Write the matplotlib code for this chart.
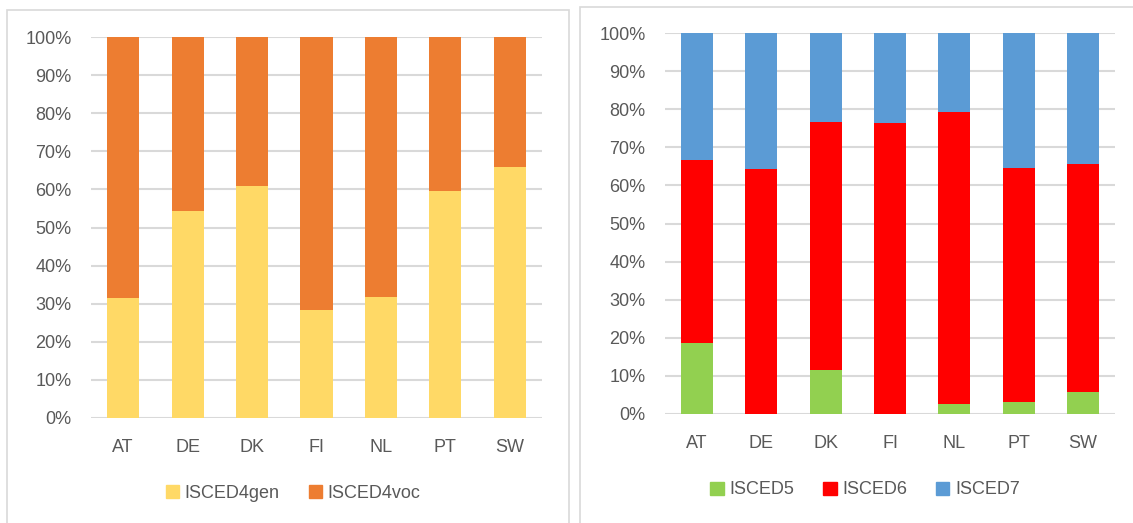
import numpy as np
import matplotlib
matplotlib.use("Agg")
import matplotlib.pyplot as plt
from matplotlib.patches import Rectangle, Patch
from matplotlib.ticker import PercentFormatter

plt.rcParams['font.family'] = ['Liberation Sans', 'DejaVu Sans']

countries = ["AT", "DE", "DK", "FI", "NL", "PT", "SW"]

# left chart: share of ISCED 4 general / vocational (%)
isced4gen = [31.5, 54.3, 61.0, 28.3, 31.8, 59.6, 65.9]
isced4voc = [68.5, 45.7, 39.0, 71.7, 68.2, 40.4, 34.1]

# right chart: share of ISCED 5 / 6 / 7 (%)
isced5 = [18.6, 0.0, 11.5, 0.0, 2.6, 3.1, 5.8]
isced6 = [48.1, 64.2, 65.1, 76.4, 76.7, 61.5, 59.8]
isced7 = [33.3, 35.8, 23.4, 23.6, 20.7, 35.4, 34.4]

W, H = 1133, 523
txt = "#595959"
grid = "#D9D9D9"

fig = plt.figure(figsize=(W / 100, H / 100), dpi=100)

# panel frames
fig.patches.append(Rectangle((6.5 / W, -0.05), (569 - 6.5) / W, 1.05 - 10 / H,
                             transform=fig.transFigure, fill=False,
                             edgecolor=grid, lw=1.2))
fig.patches.append(Rectangle((580 / W, -0.05), 0.5, 1.05 - 7 / H,
                             transform=fig.transFigure, fill=False,
                             edgecolor=grid, lw=1.2))

ax1 = fig.add_axes([91 / W, (H - 418) / H, 451 / W, 381 / H])
ax2 = fig.add_axes([665 / W, (H - 414) / H, 450 / W, 381 / H])

x = np.arange(len(countries))
bw = 0.5

ax1.bar(x, isced4gen, bw, color="#FFD966", zorder=3)
ax1.bar(x, isced4voc, bw, bottom=isced4gen, color="#ED7D31", zorder=3)

b6 = np.array(isced5)
b7 = b6 + np.array(isced6)
ax2.bar(x, isced5, bw, color="#92D050", zorder=3)
ax2.bar(x, isced6, bw, bottom=b6, color="#FF0000", zorder=3)
ax2.bar(x, isced7, bw, bottom=b7, color="#5B9BD5", zorder=3)

for ax in (ax1, ax2):
    ax.set_xlim(-0.5, len(countries) - 0.5)
    ax.set_ylim(0, 100)
    ax.set_yticks(np.arange(0, 101, 10))
    ax.yaxis.set_major_formatter(PercentFormatter(decimals=0))
    ax.set_xticks(x)
    ax.set_xticklabels(countries)
    ax.grid(axis="y", color=grid, lw=1.5, zorder=0)
    ax.set_axisbelow(True)
    for s in ax.spines.values():
        s.set_visible(False)
    ax.tick_params(axis="y", length=0, pad=14, labelsize=13, labelcolor=txt)
    ax.tick_params(axis="x", length=0, pad=15, labelsize=13, labelcolor=txt)

leg_kw = dict(frameon=False, fontsize=13, handlelength=0.75, handleheight=0.75,
              handletextpad=0.3, columnspacing=1.6, loc="center", labelcolor=txt)

fig.legend(handles=[Patch(color="#FFD966", label="ISCED4gen"),
                    Patch(color="#ED7D31", label="ISCED4voc")],
           ncol=2, bbox_to_anchor=(293 / W, (H - 493) / H), **leg_kw)
fig.legend(handles=[Patch(color="#92D050", label="ISCED5"),
                    Patch(color="#FF0000", label="ISCED6"),
                    Patch(color="#5B9BD5", label="ISCED7")],
           ncol=3, bbox_to_anchor=(865 / W, (H - 490) / H), **leg_kw)

fig.savefig("out.png", dpi=100)
